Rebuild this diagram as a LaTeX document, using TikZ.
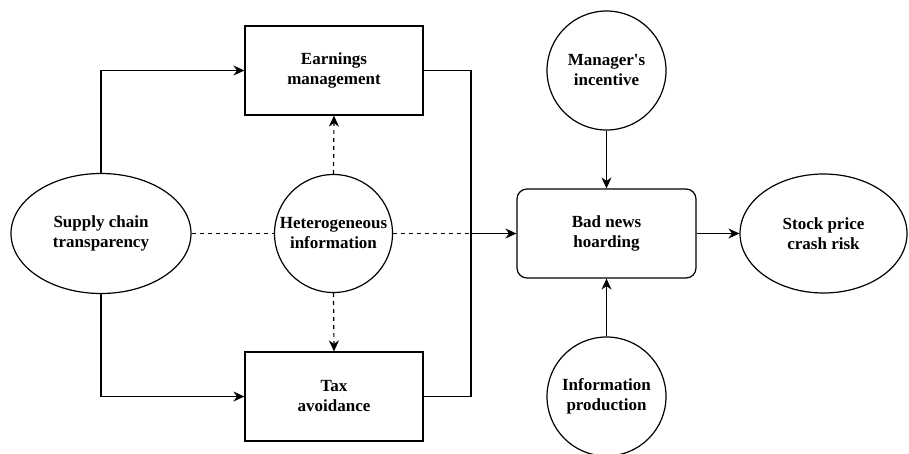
\documentclass[tikz,border=0pt]{standalone}
\usepackage{fontspec}
\setmainfont{Liberation Serif}[Ligatures=TeXOff]
\usetikzlibrary{shapes.geometric,arrows.meta}
\begin{document}
\begin{tikzpicture}[x=1pt,y=-1pt,
  every node/.style={font=\fontsize{17}{20}\selectfont\bfseries,align=center,inner sep=0pt,line width=1.2pt,draw=black},
  boxn/.style={rectangle,minimum width=178pt,minimum height=89pt},
  rbox/.style={rectangle,rounded corners=10pt,minimum width=179pt,minimum height=89pt},
  circ/.style={circle,minimum size=119pt},
  ell/.style={ellipse},
  conn/.style={line width=1.2pt,-{Stealth[length=11pt,width=10pt]}},
  plain/.style={line width=1.2pt},
  dsh/.style={line width=1.2pt,dash pattern=on 4pt off 4pt}
]
\useasboundingbox (0,0) rectangle (909,453);
\clip (0,0) rectangle (909,453);
\node[ell,minimum width=180pt,minimum height=120pt] (sc) at (101,233.5) {Supply chain\\transparency};
\node[boxn] (em) at (334,70.5) {Earnings\\management};
\node[boxn] (ta) at (334,396.5) {Tax\\avoidance};
\node[circ,minimum size=118pt] (hi) at (333.5,233.5) {Heterogeneous\\information};
\node[rbox] (bn) at (606.5,233.5) {Bad news\\hoarding};
\node[circ] (mi) at (606.5,70.5) {Manager's\\incentive};
\node[circ] (ip) at (606.5,396.5) {Information\\production};
\node[ell,minimum width=167pt,minimum height=119pt] (sp) at (823.5,233.5) {Stock price\\crash risk};
\coordinate (j) at (471,233.5);
\draw[conn] (sc.north) |- (em.west);
\draw[conn] (sc.south) |- (ta.west);
\draw[plain] (em.east) -| (j);
\draw[plain] (ta.east) -| (j);
\draw[conn] (j) -- (bn.west);
\draw[dsh] (sc.east) -- (hi.west);
\draw[dsh] (hi.east) -- (j);
\draw[dsh,-{Stealth[length=11pt,width=10pt]}] (hi.north) -- (em.south);
\draw[dsh,-{Stealth[length=11pt,width=10pt]}] (hi.south) -- (ta.north);
\draw[conn] (mi.south) -- (bn.north);
\draw[conn] (ip.north) -- (bn.south);
\draw[conn] (bn.east) -- (sp.west);
\end{tikzpicture}
\end{document}
